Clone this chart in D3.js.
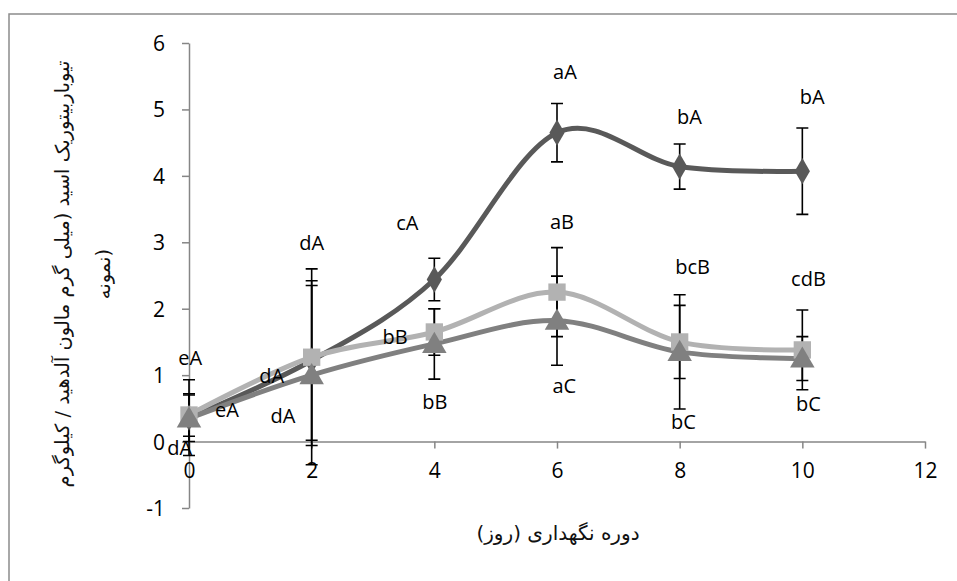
<!DOCTYPE html>
<html lang="fa">
    <head>
        <meta charset="UTF-8" />
        <title>TBA chart</title>
        <style>
            body {
                margin: 0;
                background: #fff;
            }
            .tick text {
                font: 21px "Open Sans", sans-serif;
                fill: #000;
            }
            .axis path,
            .axis line {
                stroke: #868686;
                stroke-width: 1.5px;
            }
            .dataLabel {
                font: 20px "Open Sans", sans-serif;
                fill: #000;
            }
            .title {
                font-family: "DejaVu Sans", sans-serif;
                fill: #111;
            }
            .errBar {
                stroke: #000;
                stroke-width: 1.6px;
                fill: none;
            }
        </style>
    </head>
    <body>
        <svg width="957" height="581"></svg>
        <script src="https://cdnjs.cloudflare.com/ajax/libs/d3/7.9.0/d3.min.js"></script>
        <script>
            // storage days and the three treatments
            const days = [0, 2, 4, 6, 8, 10];
            const seriesDiamond = [0.36, 1.22, 2.44, 4.65, 4.14, 4.07];
            const errDiamond = [0.57, 1.2, 0.32, 0.44, 0.34, 0.65];
            const seriesSquare = [0.4, 1.27, 1.65, 2.25, 1.5, 1.38];
            const errSquare = [0.32, 1.33, 0.35, 0.67, 0.55, 0.6];
            const seriesTriangle = [0.35, 1.0, 1.47, 1.82, 1.35, 1.25];
            const errTriangle = [0.35, 1.35, 0.53, 0.67, 0.86, 0.33];

            const xTicks = [0, 2, 4, 6, 8, 10, 12];
            const yTicks = [-1, 0, 1, 2, 3, 4, 5, 6];

            // letters of significance, placed in data units
            const labelText = ["eA", "eA", "dA", "dA", "dA", "dA", "cA", "bB", "bB", "aA", "aB", "aC", "bA", "bA", "bcB", "cdB", "bC", "bC"];
            const labelX = [0.02, 0.62, -0.15, 1.35, 1.53, 2.0, 3.56, 3.36, 4.01, 6.13, 6.08, 6.12, 8.16, 10.16, 8.21, 10.1, 8.06, 10.1];
            const labelY = [1.26, 0.48, -0.09, 0.98, 0.38, 2.99, 3.29, 1.58, 0.6, 5.56, 3.31, 0.83, 4.89, 5.19, 2.63, 2.44, 0.3, 0.56];

            const yTitle1 = "تیوباربیتوریک اسید (میلی گرم مالون آلدهید / کیلوگرم";
            const yTitle2 = "نمونه)";
            const xTitle = "دوره نگهداری (روز)";

            const svg = d3.select("svg");

            // outer frame (only top and left edges fall inside the picture)
            svg.append("rect")
                .attr("x", 9)
                .attr("y", 14)
                .attr("width", 1000)
                .attr("height", 700)
                .attr("fill", "none")
                .attr("stroke", "#8c8c8c")
                .attr("stroke-width", 1.5);

            const x = d3.scaleLinear().domain([0, 12]).range([189, 925]);
            const y = d3.scaleLinear().domain([-1, 6]).range([508, 43]);

            svg.append("g")
                .attr("class", "axis")
                .attr("transform", "translate(" + x(0) + ",0)")
                .call(
                    d3
                        .axisLeft(y)
                        .tickValues(yTicks)
                        .tickFormat((d) => String(d))
                        .tickSize(7)
                        .tickPadding(17)
                        .tickSizeOuter(0)
                )
                .call((g) => g.selectAll("text").attr("dy", "0.36em"));

            svg.append("g")
                .attr("class", "axis")
                .attr("transform", "translate(0," + y(0) + ")")
                .call(
                    d3
                        .axisBottom(x)
                        .tickValues(xTicks)
                        .tickFormat((d) => String(d))
                        .tickSize(7)
                        .tickPadding(15)
                        .tickSizeOuter(0)
                );

            const series = [
                { vals: seriesDiamond, errs: errDiamond, color: "#595959", symbol: d3.symbolDiamond, size: 200 },
                { vals: seriesSquare, errs: errSquare, color: "#b2b2b2", symbol: d3.symbolSquare, size: 300 },
                { vals: seriesTriangle, errs: errTriangle, color: "#808080", symbol: d3.symbolTriangle, size: 260 },
            ];

            const capW = 6;
            // error bars go underneath everything else
            series.forEach((s) => {
                const eb = svg.append("g");
                days.forEach((d, i) => {
                    const top = y(s.vals[i] + s.errs[i]);
                    const bot = y(s.vals[i] - s.errs[i]);
                    const cx = x(d);
                    eb.append("path")
                        .attr("class", "errBar")
                        .attr("d", `M${cx},${top}V${bot}M${cx - capW},${top}H${cx + capW}M${cx - capW},${bot}H${cx + capW}`);
                });
            });

            const line = d3
                .line()
                .x((d, i) => x(days[i]))
                .y((d) => y(d))
                .curve(d3.curveCardinal.tension(0));

            series.forEach((s) => {
                svg.append("path")
                    .datum(s.vals)
                    .attr("d", line)
                    .attr("fill", "none")
                    .attr("stroke", s.color)
                    .attr("stroke-width", 5);
            });

            series.forEach((s) => {
                svg.append("g")
                    .selectAll("path")
                    .data(s.vals)
                    .enter()
                    .append("path")
                    .attr("transform", (d, i) => "translate(" + x(days[i]) + "," + (y(d) + (s.symbol === d3.symbolTriangle ? 2 : 0)) + ")")
                    .attr("d", d3.symbol().type(s.symbol).size(s.size))
                    .attr("fill", s.color);
            });

            svg.append("g")
                .selectAll("text")
                .data(labelText)
                .enter()
                .append("text")
                .attr("class", "dataLabel")
                .attr("x", (d, i) => x(labelX[i]))
                .attr("y", (d, i) => y(labelY[i]))
                .attr("dy", "0.35em")
                .attr("text-anchor", "middle")
                .text((d) => d);

            // axis titles
            const yt = svg.append("text")
                .attr("class", "title")
                .attr("transform", "translate(62,274) rotate(-90)")
                .attr("text-anchor", "middle")
                .style("font-size", "19.5px");
            yt.append("tspan").attr("x", 0).attr("dy", "0.35em").text(yTitle1);
            yt.append("tspan").attr("x", 0).attr("dy", "2.1em").text(yTitle2);

            svg.append("text")
                .attr("class", "title")
                .attr("x", 558)
                .attr("y", 533)
                .attr("dy", "0.35em")
                .attr("text-anchor", "middle")
                .style("font-size", "20px")
                .text(xTitle);
        </script>
    </body>
</html>
